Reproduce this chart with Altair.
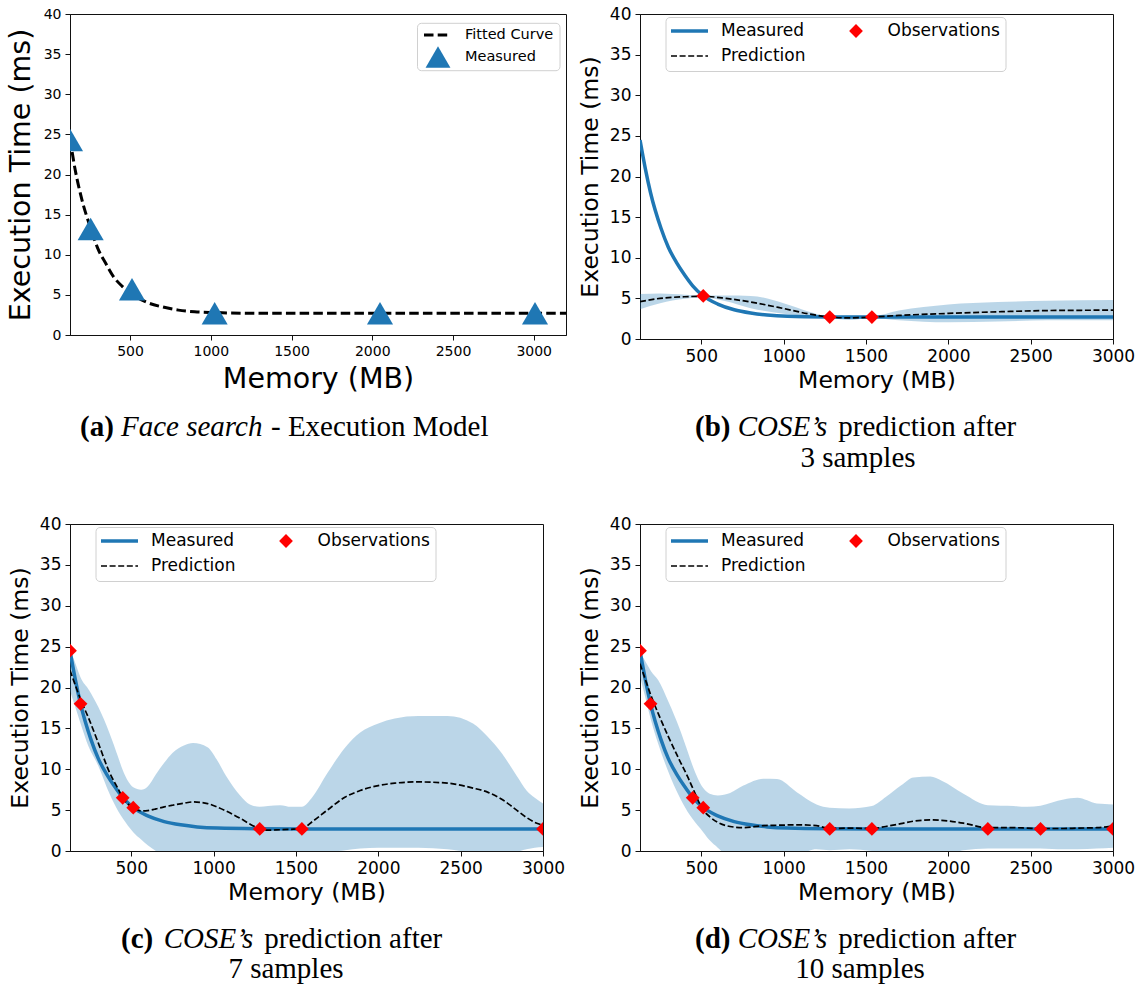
import altair as alt
import pandas as pd

# ---------------------------------------------------------------- data
# (a) execution model of the face-search function
fit_mem = [128, 160, 200, 256, 300, 350, 400, 450, 512, 600, 700, 800, 900, 1024, 1200, 1500, 2000, 2500, 3200]
fit_time = [24.5, 20.6, 17.0, 13.3, 10.8, 8.9, 7.2, 6.1, 5.1, 4.1, 3.5, 3.1, 2.9, 2.8, 2.72, 2.7, 2.7, 2.7, 2.7]
tri_mem = [128, 256, 512, 1024, 2048, 3008]
tri_time = [24.3, 13.2, 5.7, 2.7, 2.7, 2.7]

# measured execution time, shared by (b)-(d)
meas_mem = [128, 160, 192, 256, 300, 350, 400, 448, 512, 600, 700, 800, 900, 1024, 1280, 1536, 2000, 3000]
meas_time = [24.5, 21.0, 18.0, 13.6, 11.3, 9.4, 7.85, 6.55, 5.3, 4.3, 3.6, 3.2, 2.95, 2.8, 2.72, 2.7, 2.7, 2.7]

# (b) after 3 samples
b_mem = [128, 250, 400, 512, 650, 800, 1000, 1150, 1280, 1400, 1536, 1700, 2000, 2300, 2600, 3000]
b_pred = [4.6, 5.0, 5.2, 5.25, 5.0, 4.55, 3.75, 3.1, 2.7, 2.6, 2.7, 2.9, 3.15, 3.35, 3.5, 3.55]
b_hi = [5.55, 5.6, 5.45, 5.35, 5.35, 5.3, 4.4, 3.4, 2.8, 2.85, 2.8, 3.5, 4.25, 4.55, 4.7, 4.8]
b_lo = [3.65, 4.4, 4.95, 5.15, 4.65, 3.8, 3.1, 2.8, 2.6, 2.35, 2.6, 2.3, 2.05, 2.15, 2.3, 2.3]
b_obs_mem = [512, 1280, 1536]
b_obs_time = [5.3, 2.7, 2.7]

# (c) after 7 samples
c_mem = [128, 160, 195, 240, 300, 368, 420, 448, 512, 560, 600, 650, 700, 750, 820, 875, 963, 1019, 1075, 1161,
         1220, 1280, 1330, 1404, 1470, 1536, 1600, 1690, 1800, 1890, 2000, 2100, 2243, 2420, 2575, 2663, 2752,
         2840, 2900, 2950, 3000]
c_pred = [22.1, 20.3, 18.4, 16.3, 13.2, 9.6, 7.6, 6.5, 5.3, 4.9, 4.95, 5.15, 5.4, 5.6, 5.85, 6.0, 5.8, 5.4, 4.9, 4.0,
          3.3, 2.75, 2.55, 2.6, 2.65, 2.75, 3.6, 5.0, 6.6, 7.4, 8.0, 8.3, 8.45, 8.3, 7.7, 7.2, 6.3,
          5.0, 4.1, 3.5, 3.15]
c_hi = [24.7, 23.0, 21.1, 19.8, 17.6, 14.4, 11.5, 9.9, 7.8, 7.5, 7.9, 9.4, 10.8, 12.0, 12.9, 13.2, 12.7, 11.2, 9.2, 6.8,
        5.7, 5.4, 5.5, 5.6, 5.4, 5.4, 6.6, 9.5, 12.7, 14.5, 15.6, 16.2, 16.5, 16.5, 15.6, 14.0, 11.9,
        9.2, 7.4, 6.5, 5.8]
c_lo = [19.6, 17.6, 15.4, 12.8, 10.4, 7.0, 4.9, 4.0, 2.3, 1.4, 0.7, 0.0, -0.6, -0.9, -1.2, -1.2, -1.1, -0.6, -0.3, -0.3,
        -0.2, -0.1, -0.2, -0.2, -0.1, 0.0, -0.1, -0.1, 0.1, 0.3, 0.4, 0.4, 0.4, 0.2, -0.2, -0.4, -0.4,
        -0.1, 0.2, 0.4, 0.5]
c_obs_mem = [128, 192, 448, 512, 1280, 1536, 3000]
c_obs_time = [24.5, 18.0, 6.5, 5.3, 2.7, 2.7, 2.7]

# (d) after 10 samples
d_mem = [128, 160, 195, 239, 300, 368, 417, 448, 512, 551, 600, 675, 756, 877, 960, 1080, 1200, 1280, 1400, 1536,
         1620, 1712, 1789, 1891, 1960, 2092, 2240, 2396, 2480, 2560, 2700, 2784, 2902, 3000]
d_pred = [22.9, 21.0, 19.0, 16.8, 14.0, 11.1, 9.1, 7.7, 5.0, 4.2, 3.5, 3.0, 2.85, 3.1, 3.15, 3.2, 3.1, 2.75, 2.8, 2.75,
          3.0, 3.35, 3.65, 3.8, 3.75, 3.4, 2.85, 2.85, 2.8, 2.75, 2.75, 2.8, 2.85, 3.05]
d_hi = [24.4, 23.2, 22.0, 20.9, 18.3, 15.0, 12.2, 10.4, 7.7, 7.0, 6.8, 7.1, 8.0, 8.85, 8.8, 7.2, 5.7, 5.3, 5.2, 5.5,
        6.6, 8.0, 9.0, 9.1, 8.6, 7.0, 5.6, 5.5, 5.4, 5.55, 6.3, 6.5, 5.8, 5.7]
d_lo = [21.4, 18.8, 16.0, 13.1, 9.7, 6.6, 4.8, 3.9, 2.3, 1.3, 0.4, -1.0, -2.0, -2.6, -2.4, -0.7, 0.2, 0.1, 0.2, 0.0,
        -0.6, -1.3, -1.7, -1.5, -1.1, 0.1, 0.3, 0.3, 0.3, 0.3, 0.2, 0.2, 0.3, 0.4]
d_obs_mem = [128, 192, 448, 512, 1280, 1536, 2240, 2560, 3000]
d_obs_time = [24.5, 18.0, 6.5, 5.3, 2.7, 2.7, 2.7, 2.7, 2.7]

x_ticks = [500, 1000, 1500, 2000, 2500, 3000]
y_ticks = [0, 5, 10, 15, 20, 25, 30, 35, 40]

# ---------------------------------------------------------------- style
BLUE = "#1f77b4"
SANS = "DejaVu Sans"
SERIF = "Liberation Serif"
CAP = 29
ONE = pd.DataFrame({"k": [0]})


def axis(title, ticks, lab, tit, tpad):
    return alt.Axis(values=ticks, format="d", title=title, grid=False,
                    labelFont=SANS, titleFont=SANS, titleFontWeight="normal",
                    labelFontSize=lab, titleFontSize=tit, titlePadding=tpad,
                    labelPadding=4, labelFlush=False, labelColor="black", titleColor="black",
                    domainColor="#111", tickColor="#111", tickSize=5, domainWidth=1, tickWidth=1)


def x_enc(dmax, lab, tit, tpad):
    return alt.X("mem:Q", scale=alt.Scale(domain=[128, dmax], nice=False, zero=False),
                 axis=axis("Memory (MB)", x_ticks, lab, tit, tpad))


def y_enc(field, lab, tit, tpad):
    return alt.Y(f"{field}:Q", scale=alt.Scale(domain=[0, 40], nice=False, zero=False),
                 axis=axis("Execution Time (ms)", y_ticks, lab, tit, tpad))


def text_at(txt, x, y, size, font=SANS, weight="normal", style="normal", align="left", baseline="middle"):
    return alt.Chart(ONE).mark_text(text=txt, font=font, fontSize=size, fontWeight=weight,
                                    fontStyle=style, align=align, baseline=baseline,
                                    color="black").encode(x=alt.value(x), y=alt.value(y))


def caption(parts, y, line2=None):
    layers = [text_at(t, x, y, CAP, SERIF, w, s, baseline="alphabetic") for t, x, w, s in parts]
    if line2:
        layers.append(text_at(line2[0], line2[1], line2[2], CAP, SERIF, align="center", baseline="alphabetic"))
    return layers


# ---------------------------------------------------------------- panel (a)
fit_df = pd.DataFrame({"mem": fit_mem, "time": fit_time})
tri_df = pd.DataFrame({"mem": tri_mem, "time": tri_time})

XA = x_enc(3200, 14, 28.5, 6)
YA = y_enc("time", 14, 28.5, 8)

fit_line = alt.Chart(fit_df).mark_line(color="black", strokeWidth=3, strokeDash=[9.5, 4.2],
                                       interpolate="monotone", clip=True).encode(x=XA, y=YA)
tri_pts = alt.Chart(tri_df).mark_point(shape="triangle-up", filled=True, size=680, color=BLUE,
                                       opacity=1, clip=True).encode(x=XA, y=YA)

leg_a = [
    alt.Chart(ONE).mark_rect(cornerRadius=4, fill="white", fillOpacity=0.8, stroke="#d0d0d0",
                             strokeWidth=1).encode(x=alt.value(347.5), x2=alt.value(490),
                                                   y=alt.value(9.3), y2=alt.value(56.7)),
    alt.Chart(ONE).mark_rule(color="black", strokeWidth=3, strokeDash=[9.5, 4.2]).encode(
        x=alt.value(354), x2=alt.value(381), y=alt.value(21)),
    alt.Chart(ONE).mark_point(shape="triangle-up", filled=True, size=620, color=BLUE, opacity=1).encode(
        x=alt.value(368), y=alt.value(43)),
    text_at("Fitted Curve", 395, 21, 14.5),
    text_at("Measured", 395, 43, 14.5),
]

cap_a = caption([("(a)", 10, "bold", "normal"), ("Face search", 51, "normal", "italic"),
                 ("- Execution Model", 201, "normal", "normal")], 422)

panel_a = alt.layer(fit_line, tri_pts, *leg_a, *cap_a).properties(width=496, height=321)


# ---------------------------------------------------------------- panels (b)-(d)
meas_df = pd.DataFrame({"mem": meas_mem, "time": meas_time})


def cose_panel(mem, pred, lo, hi, obs_mem, obs_time, cap_x, cap_y, line2, height):
    XP = x_enc(3000, 17, 23.5, 4)
    YP = y_enc("time", 17, 23.5, 7)
    band_df = pd.DataFrame({"mem": mem, "lo": lo, "hi": hi})
    pred_df = pd.DataFrame({"mem": mem, "time": pred})
    obs_df = pd.DataFrame({"mem": obs_mem, "time": obs_time})

    band = alt.Chart(band_df).mark_area(color=BLUE, opacity=0.3, interpolate="monotone", clip=True).encode(
        x=XP, y=y_enc("lo", 17, 23.5, 7), y2="hi:Q")
    meas = alt.Chart(meas_df).mark_line(color=BLUE, strokeWidth=3.5, interpolate="monotone",
                                        clip=True).encode(x=XP, y=YP)
    pline = alt.Chart(pred_df).mark_line(color="black", strokeWidth=1.7, strokeDash=[6, 2.6],
                                         interpolate="monotone", clip=True).encode(x=XP, y=YP)
    obs = alt.Chart(obs_df).mark_point(shape="diamond", filled=True, size=190, color="red",
                                       opacity=1, clip=True).encode(x=XP, y=YP)
    leg = [
        alt.Chart(ONE).mark_rect(cornerRadius=4, fill="white", fillOpacity=0.8, stroke="#d0d0d0",
                                 strokeWidth=1).encode(x=alt.value(26), x2=alt.value(366),
                                                       y=alt.value(3.5), y2=alt.value(57.5)),
        alt.Chart(ONE).mark_rule(color=BLUE, strokeWidth=3.5).encode(
            x=alt.value(31), x2=alt.value(68), y=alt.value(17)),
        alt.Chart(ONE).mark_rule(color="black", strokeWidth=1.7, strokeDash=[6, 2.6]).encode(
            x=alt.value(31), x2=alt.value(68), y=alt.value(42)),
        alt.Chart(ONE).mark_point(shape="diamond", filled=True, size=190, color="red", opacity=1).encode(
            x=alt.value(216), y=alt.value(17)),
        text_at("Measured", 81, 17, 17),
        text_at("Prediction", 81, 42, 17),
        text_at("Observations", 247.5, 17, 17),
    ]
    label, x0 = cap_x
    parts = [(label, x0, "bold", "normal"), ("COSE’s", x0 + 42.7, "normal", "italic"),
             ("prediction after", x0 + 143.3, "normal", "normal")]
    cap = caption(parts, cap_y, line2)
    return alt.layer(band, meas, pline, obs, *leg, *cap).properties(width=473, height=height)


panel_b = cose_panel(b_mem, b_pred, b_lo, b_hi, b_obs_mem, b_obs_time,
                     ("(b)", 55), 422, ("3 samples", 218, 453), 325)
panel_c = cose_panel(c_mem, c_pred, c_lo, c_hi, c_obs_mem, c_obs_time,
                     ("(c)", 51), 424, ("7 samples", 216, 454), 327)
panel_d = cose_panel(d_mem, d_pred, d_lo, d_hi, d_obs_mem, d_obs_time,
                     ("(d)", 55), 424, ("10 samples", 220, 454), 327)

chart = alt.concat(panel_a, panel_b, panel_c, panel_d, columns=2,
                   spacing={"row": 185, "column": 74}, bounds="flush", align="each").properties(
    autosize=alt.AutoSizeParams(type="none"),
    padding={"left": 70, "top": 14, "right": 1077, "bottom": 974},
    background="white",
).configure_view(stroke="#111", strokeWidth=1)

chart.save("out.html", embed_options={"renderer": "svg", "actions": False})
